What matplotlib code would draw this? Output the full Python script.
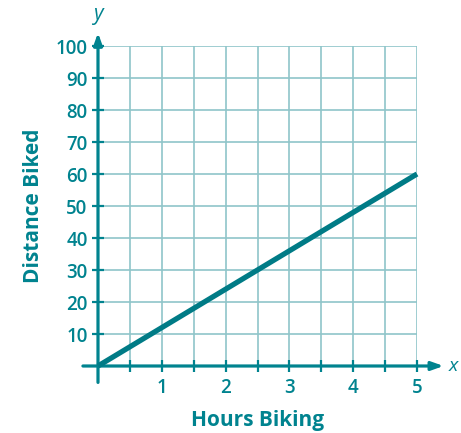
import numpy as np
import matplotlib
matplotlib.use("Agg")
import matplotlib.pyplot as plt

# % data
hours = [0, 5]
distance = [0, 60]
xticks = [0.5, 1, 1.5, 2, 2.5, 3, 3.5, 4, 4.5, 5]
xticklabels = ["", "1", "", "2", "", "3", "", "4", "", "5"]
yticks = [10, 20, 30, 40, 50, 60, 70, 80, 90, 100]

teal = "#00838f"
grid = "#8fc5c9"
line_col = "#007b86"
plt.rcParams["font.family"] = ["Open Sans", "DejaVu Sans"]

# %% figure
fig = plt.figure(figsize=(4.61, 4.33), dpi=100)
ax = fig.add_axes([98/461, (433-366)/433, (417-98)/461, (366-46)/433])
ax.set_xlim(0, 5)
ax.set_ylim(0, 100)
for s in ax.spines.values():
    s.set_visible(False)

ax.set_xticks(xticks)
ax.set_xticklabels(xticklabels)
ax.set_yticks(yticks)
ax.grid(True, color=grid, lw=1.2)
ax.tick_params(axis="both", colors=teal, direction="inout", length=9, width=1.6,
               labelsize=13.5, labelcolor=teal)
ax.tick_params(axis="x", pad=4)
ax.tick_params(axis="y", pad=3)
for lab in ax.get_xticklabels() + ax.get_yticklabels():
    lab.set_fontweight("semibold")

# axes with arrows
ax.annotate("", xy=(5.46, 0), xytext=(-0.28, 0), annotation_clip=False,
            arrowprops=dict(arrowstyle="-|>,head_length=0.7,head_width=0.25", color=teal, lw=2.3))
ax.annotate("", xy=(0, 105), xytext=(0, -6), annotation_clip=False,
            arrowprops=dict(arrowstyle="-|>,head_length=0.7,head_width=0.25", color=teal, lw=2.3))
ax.text(5.49, 0, "x", style="italic", fontsize=14, color=teal, va="center", ha="left", clip_on=False)
ax.text(0, 106.5, "y", style="italic", fontsize=15, color=teal, va="bottom", ha="center", clip_on=False)

ax.plot(hours, distance, color=line_col, lw=3.8, solid_capstyle="butt", clip_on=False, zorder=5)

ax.set_xlabel("Hours Biking", fontsize=15, fontweight="bold", color=teal, labelpad=9)
ax.set_ylabel("Distance Biked", fontsize=15, fontweight="bold", color=teal, labelpad=8)

fig.savefig("out.png", dpi=100)
